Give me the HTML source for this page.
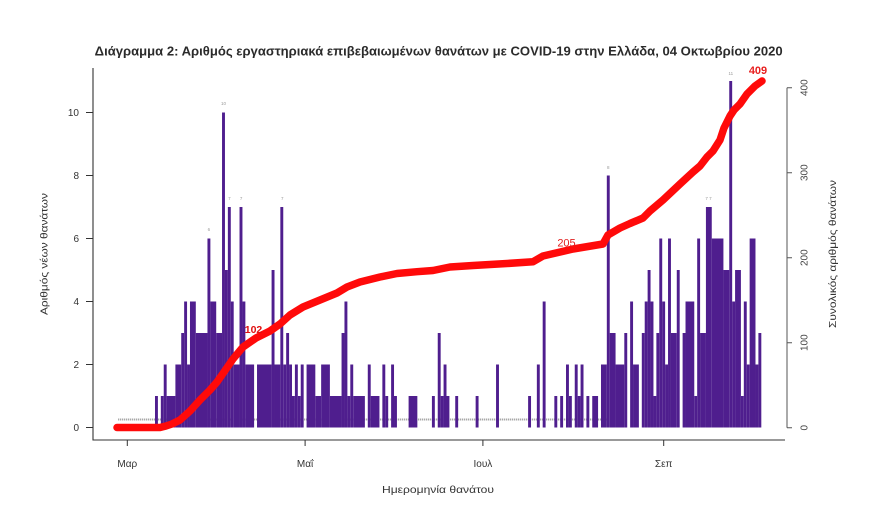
<!DOCTYPE html>
<html>
<head>
<meta charset="utf-8">
<style>
html,body{margin:0;padding:0;background:#fff;}
svg{display:block;font-family:"Liberation Sans","DejaVu Sans",sans-serif;}
</style>
</head>
<body>
<svg width="880" height="529" viewBox="0 0 880 529" xmlns="http://www.w3.org/2000/svg">
<rect x="0" y="0" width="880" height="529" fill="#fff"/>
<text x="438.7" y="55.5" text-anchor="middle" font-weight="bold" font-size="12.5" textLength="688" lengthAdjust="spacingAndGlyphs" fill="#2b2b2b">Διάγραμμα 2: Αριθμός εργαστηριακά επιβεβαιωμένων θανάτων με COVID-19 στην Ελλάδα, 04 Οκτωβρίου 2020</text>
<line x1="118" y1="419.5" x2="610" y2="419.5" stroke="#a8a8a8" stroke-width="2" stroke-dasharray="1.3 0.7"/>
<g transform="translate(127.3,427.5) scale(2.915,-31.5)" fill="#4f1e8e">
<rect x="9.5" width="1" height="1"/>
<rect x="11.5" width="1" height="1"/>
<rect x="12.5" width="1" height="2"/>
<rect x="13.5" width="3" height="1"/>
<rect x="16.5" width="2" height="2"/>
<rect x="18.5" width="1" height="3"/>
<rect x="19.5" width="1" height="4"/>
<rect x="20.5" width="1" height="2"/>
<rect x="21.5" width="2" height="4"/>
<rect x="23.5" width="4" height="3"/>
<rect x="27.5" width="1" height="6"/>
<rect x="28.5" width="2" height="4"/>
<rect x="30.5" width="2" height="3"/>
<rect x="32.5" width="1" height="10"/>
<rect x="33.5" width="1" height="5"/>
<rect x="34.5" width="1" height="7"/>
<rect x="35.5" width="1" height="4"/>
<rect x="36.5" width="2" height="2"/>
<rect x="38.5" width="1" height="7"/>
<rect x="39.5" width="1" height="4"/>
<rect x="40.5" width="3" height="2"/>
<rect x="44.5" width="5" height="2"/>
<rect x="49.5" width="1" height="5"/>
<rect x="50.5" width="2" height="2"/>
<rect x="52.5" width="1" height="7"/>
<rect x="53.5" width="1" height="2"/>
<rect x="54.5" width="1" height="3"/>
<rect x="55.5" width="1" height="2"/>
<rect x="56.5" width="1" height="1"/>
<rect x="57.5" width="1" height="2"/>
<rect x="58.5" width="1" height="1"/>
<rect x="59.5" width="1" height="2"/>
<rect x="61.5" width="3" height="2"/>
<rect x="64.5" width="2" height="1"/>
<rect x="66.5" width="3" height="2"/>
<rect x="69.5" width="4" height="1"/>
<rect x="73.5" width="1" height="3"/>
<rect x="74.5" width="1" height="4"/>
<rect x="75.5" width="1" height="1"/>
<rect x="76.5" width="1" height="2"/>
<rect x="77.5" width="4" height="1"/>
<rect x="82.5" width="1" height="2"/>
<rect x="83.5" width="3" height="1"/>
<rect x="87.5" width="1" height="2"/>
<rect x="88.5" width="1" height="1"/>
<rect x="90.5" width="1" height="2"/>
<rect x="91.5" width="1" height="1"/>
<rect x="96.5" width="3" height="1"/>
<rect x="104.5" width="1" height="1"/>
<rect x="106.5" width="1" height="3"/>
<rect x="107.5" width="1" height="1"/>
<rect x="108.5" width="1" height="2"/>
<rect x="109.5" width="1" height="1"/>
<rect x="112.5" width="1" height="1"/>
<rect x="119.5" width="1" height="1"/>
<rect x="126.5" width="1" height="2"/>
<rect x="137.5" width="1" height="1"/>
<rect x="140.5" width="1" height="2"/>
<rect x="142.5" width="1" height="4"/>
<rect x="146.5" width="1" height="1"/>
<rect x="148.5" width="1" height="1"/>
<rect x="150.5" width="1" height="2"/>
<rect x="151.5" width="1" height="1"/>
<rect x="153.5" width="1" height="2"/>
<rect x="154.5" width="1" height="1"/>
<rect x="155.5" width="1" height="2"/>
<rect x="157.5" width="1" height="1"/>
<rect x="159.5" width="2" height="1"/>
<rect x="162.5" width="2" height="2"/>
<rect x="164.5" width="1" height="8"/>
<rect x="165.5" width="2" height="3"/>
<rect x="167.5" width="3" height="2"/>
<rect x="170.5" width="1" height="3"/>
<rect x="172.5" width="1" height="4"/>
<rect x="173.5" width="2" height="2"/>
<rect x="176.5" width="1" height="3"/>
<rect x="177.5" width="1" height="4"/>
<rect x="178.5" width="1" height="5"/>
<rect x="179.5" width="1" height="4"/>
<rect x="180.5" width="1" height="1"/>
<rect x="181.5" width="1" height="3"/>
<rect x="182.5" width="1" height="6"/>
<rect x="183.5" width="1" height="4"/>
<rect x="184.5" width="1" height="2"/>
<rect x="185.5" width="1" height="6"/>
<rect x="186.5" width="2" height="3"/>
<rect x="188.5" width="1" height="5"/>
<rect x="190.5" width="1" height="3"/>
<rect x="191.5" width="3" height="4"/>
<rect x="194.5" width="1" height="1"/>
<rect x="195.5" width="1" height="6"/>
<rect x="196.5" width="2" height="3"/>
<rect x="198.5" width="2" height="7"/>
<rect x="200.5" width="4" height="6"/>
<rect x="204.5" width="2" height="5"/>
<rect x="206.5" width="1" height="11"/>
<rect x="207.5" width="1" height="4"/>
<rect x="208.5" width="2" height="5"/>
<rect x="210.5" width="1" height="1"/>
<rect x="211.5" width="1" height="4"/>
<rect x="212.5" width="1" height="2"/>
<rect x="213.5" width="2" height="6"/>
<rect x="215.5" width="1" height="2"/>
<rect x="216.5" width="1" height="3"/>
</g>
<g font-size="4.5" fill="#999" text-anchor="middle">
<text x="223.5" y="105">10</text>
<text x="229.4" y="200">7</text>
<text x="241.1" y="200">7</text>
<text x="208.9" y="231">6</text>
<text x="282.2" y="200">7</text>
<text x="608.3" y="169">8</text>
<text x="730.8" y="75">11</text>
<text x="708.5" y="200">7 7</text>
</g>
<polyline fill="none" stroke="#ff0a0a" stroke-width="7.5" stroke-linecap="round" stroke-linejoin="round" points="117,427.5 160,427.5 166,426 172,424 180,420 190,411 200,400 210,390 217,382 224,372 233,359 243,347 256,338 270,331 280,324 290,315 303,307 320,300 337,293 347,287 360,282 380,277 397,273.5 417,271.7 433,270.5 450,267 473,265.5 507,263.5 533,261.7 543,256 573,249 603,244 608,235 620,228 630,223.5 643,218 650,211 663,200 680,184 693,172 700,166 707,157 713,151 720,140 724,128 730,116 734,110 740,104 747,94 755,86 762,81"/>
<text x="253.5" y="333" text-anchor="middle" font-size="10.5" font-weight="bold" fill="#e01010">102</text>
<text x="566.5" y="246.5" text-anchor="middle" font-size="11" fill="#e02020">205</text>
<text x="758" y="74" text-anchor="middle" font-size="11" font-weight="bold" fill="#e82020">409</text>
<path d="M93 68 V440 H785" stroke="#333" stroke-width="1.1" fill="none"/>
<path d="M86 427.5H93M86 364.5H93M86 301.5H93M86 238.5H93M86 175.5H93M86 112.5H93" stroke="#333"/>
<g font-size="10" fill="#333" text-anchor="end">
<text x="79" y="431">0</text>
<text x="79" y="368">2</text>
<text x="79" y="305">4</text>
<text x="79" y="242">6</text>
<text x="79" y="179">8</text>
<text x="79" y="116">10</text>
</g>
<path d="M127.3 440V446M305.1 440V446M482.9 440V446M663.7 440V446" stroke="#333"/>
<g font-size="10" fill="#333" text-anchor="middle">
<text x="127.3" y="467">Μαρ</text>
<text x="305.1" y="467">Μαΐ</text>
<text x="482.9" y="467">Ιουλ</text>
<text x="663.7" y="467">Σεπ</text>
</g>
<text x="438" y="493" text-anchor="middle" font-size="10.5" fill="#333" textLength="112" lengthAdjust="spacingAndGlyphs">Ημερομηνία θανάτου</text>
<path d="M787 87.7V427.7M787 427.7H792M787 342.7H792M787 257.7H792M787 172.7H792M787 87.7H792" stroke="#555" fill="none"/>
<g font-size="10" fill="#444" text-anchor="middle">
<text transform="translate(807.5,427.7) rotate(-90)">0</text>
<text transform="translate(807.5,342.7) rotate(-90)">100</text>
<text transform="translate(807.5,257.7) rotate(-90)">200</text>
<text transform="translate(807.5,172.7) rotate(-90)">300</text>
<text transform="translate(807.5,87.7) rotate(-90)">400</text>
</g>
<text transform="translate(47.5,254) rotate(-90)" text-anchor="middle" font-size="10.5" fill="#333" textLength="122" lengthAdjust="spacingAndGlyphs">Αριθμός νέων θανάτων</text>
<text transform="translate(836,254) rotate(-90)" text-anchor="middle" font-size="10.5" fill="#333" textLength="148" lengthAdjust="spacingAndGlyphs">Συνολικός αριθμός θανάτων</text>
</svg>
</body>
</html>
